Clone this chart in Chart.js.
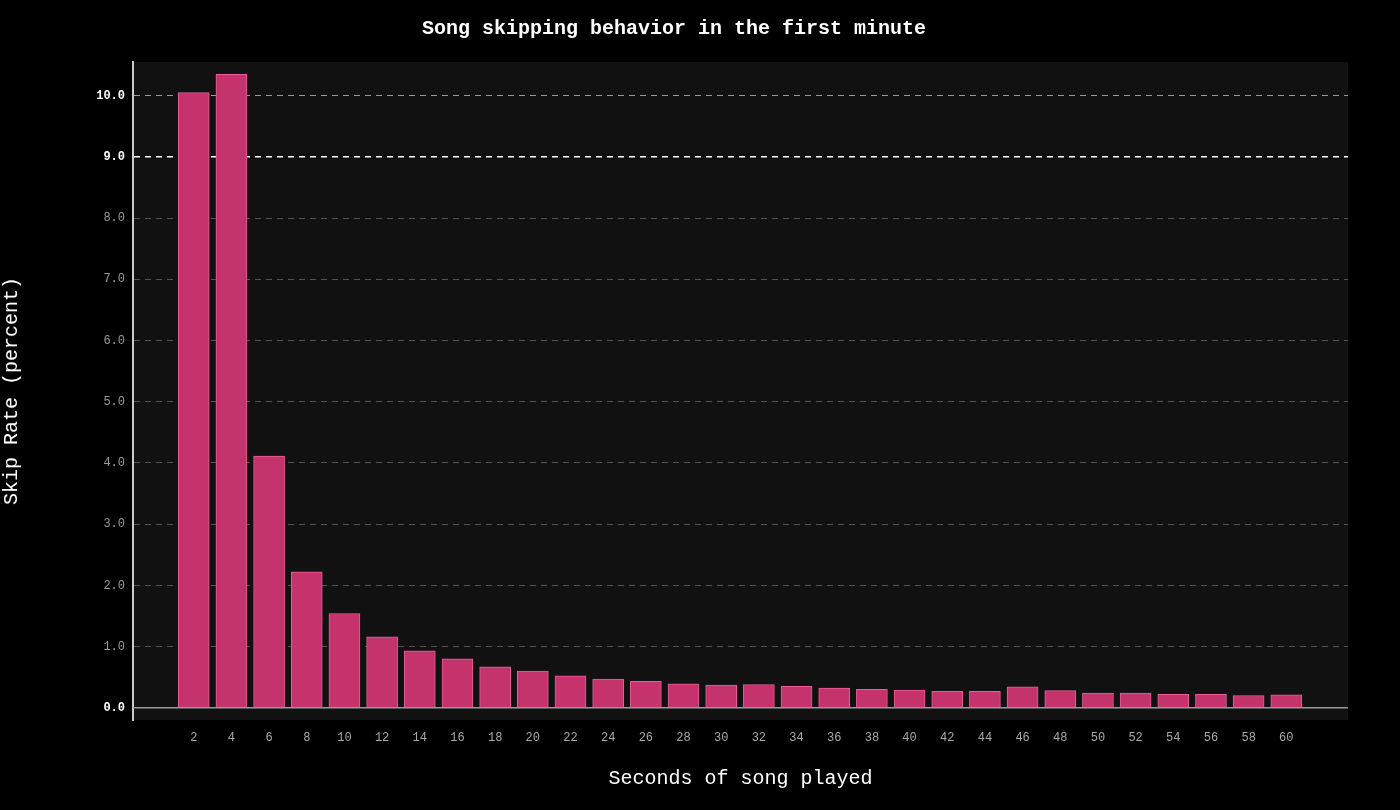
<!DOCTYPE html>
<html>
<head>
<meta charset="utf-8">
<script src="https://cdn.jsdelivr.net/npm/chart.js@4"></script>
<style>
  html, body { margin: 0; padding: 0; background: #000; }
  #wrap { width: 1400px; height: 810px; }
</style>
</head>
<body>
<div id="wrap"><canvas id="chartCanvas"></canvas></div>
<script>
const seconds = [2, 4, 6, 8, 10, 12, 14, 16, 18, 20, 22, 24, 26, 28, 30,
                 32, 34, 36, 38, 40, 42, 44, 46, 48, 50, 52, 54, 56, 58, 60];
const skipRate = [10.05, 10.35, 4.11, 2.22, 1.54, 1.16, 0.93, 0.80, 0.67, 0.60,
                  0.52, 0.47, 0.43, 0.39, 0.37, 0.38, 0.35, 0.32, 0.30, 0.29,
                  0.27, 0.27, 0.34, 0.28, 0.24, 0.24, 0.22, 0.22, 0.20, 0.21];
const yTicks = [0, 1, 2, 3, 4, 5, 6, 7, 8, 9, 10];
const brightTicks = [0, 9, 10];

const mono = "'Liberation Mono', 'DejaVu Sans Mono', monospace";

function tickVal(c) {
  return c && c.tick ? c.tick.value : null;
}

// plot background + zero baseline
const plotBg = {
  id: 'plotBg',
  beforeDraw(chart) {
    const { ctx, chartArea: a } = chart;
    ctx.save();
    ctx.fillStyle = '#111111';
    ctx.fillRect(a.left, a.top, a.right - a.left, a.bottom - a.top);
    ctx.restore();
  },
  afterDatasetsDraw(chart) {
    const { ctx, chartArea: a } = chart;
    const y0 = chart.scales.y.getPixelForValue(0);
    ctx.save();
    ctx.strokeStyle = '#9a9a9a';
    ctx.lineWidth = 1.5;
    ctx.beginPath();
    ctx.moveTo(a.left, y0);
    ctx.lineTo(a.right, y0);
    ctx.stroke();
    ctx.restore();
  }
};

const ctx = document.getElementById('chartCanvas').getContext('2d');
new Chart(ctx, {
  type: 'bar',
  data: {
    datasets: [{
      label: 'Skip Rate',
      data: seconds.map((s, i) => ({ x: s, y: skipRate[i] })),
      backgroundColor: '#c4336b',
      borderColor: '#e8609a',
      borderWidth: 1,
      barThickness: 31
    }]
  },
  options: {
    responsive: true,
    maintainAspectRatio: false,
    animation: false,
    layout: { padding: { right: 52 } },
    plugins: {
      legend: { display: false },
      tooltip: { enabled: false },
      title: {
        display: true,
        text: 'Song skipping behavior in the first minute',
        color: '#ffffff',
        font: { family: mono, size: 20 },
        padding: { top: 17, bottom: 21 }
      }
    },
    scales: {
      x: {
        type: 'linear',
        min: -0.15,
        max: 62.2,
        afterBuildTicks(scale) {
          scale.ticks = seconds.map(v => ({ value: v }));
        },
        afterFit(scale) { scale.height = 90; },
        grid: { display: false, drawTicks: false },
        border: { display: false },
        ticks: {
          color: '#aaaaaa',
          font: { family: mono, size: 12 },
          padding: 11,
          maxRotation: 0,
          autoSkip: false
        },
        title: {
          display: true,
          text: 'Seconds of song played',
          color: '#ffffff',
          font: { family: mono, size: 20 },
          padding: { top: 0, bottom: 19 }
        }
      },
      y: {
        min: -0.2,
        max: 10.55,
        afterBuildTicks(scale) {
          scale.ticks = yTicks.map(v => ({ value: v }));
        },
        afterFit(scale) { scale.width = 133; },
        grid: {
          drawTicks: false,
          color: c => {
            const v = tickVal(c);
            if (v === 9) return '#ffffff';
            if (v === 10) return '#9a9a9a';
            if (v === 0) return 'rgba(0,0,0,0)';
            return '#555555';
          },
          lineWidth: c => tickVal(c) === 9 ? 1.5 : 1
        },
        border: { display: true, color: '#cccccc', width: 2, dash: [6, 5] },
        ticks: {
          color: c => brightTicks.includes(tickVal(c)) ? '#ffffff' : '#9a9a9a',
          font: c => ({ family: mono, size: 12, weight: brightTicks.includes(tickVal(c)) ? 'bold' : 'normal' }),
          padding: 8,
          callback: v => Number(v).toFixed(1)
        },
        title: {
          display: true,
          text: 'Skip Rate (percent)',
          color: '#ffffff',
          font: { family: mono, size: 20 },
          padding: { top: 0, bottom: 44 }
        }
      }
    }
  },
  plugins: [plotBg]
});
</script>
</body>
</html>
